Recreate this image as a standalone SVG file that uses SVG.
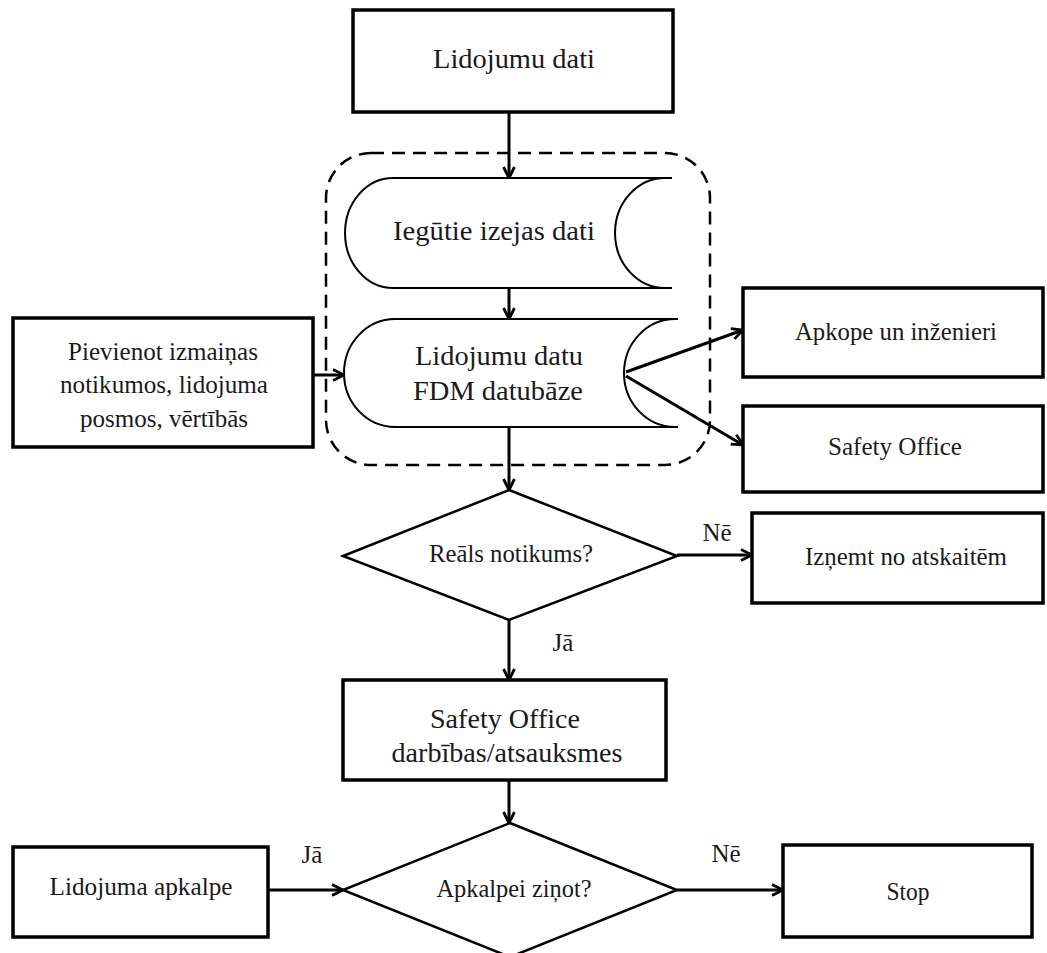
<svg xmlns="http://www.w3.org/2000/svg" width="1047" height="953" viewBox="0 0 1047 953">
<defs>
<marker id="arr" viewBox="0 0 14 14" refX="13" refY="7" markerWidth="14" markerHeight="14" markerUnits="userSpaceOnUse" orient="auto">
<path d="M2,1.5 L13,7 L2,12.5" fill="none" stroke="#000" stroke-width="2.8" stroke-linejoin="miter"/>
</marker>
</defs>
<style>
.box{fill:#fff;stroke:#000;stroke-width:3.5}
.shape{fill:none;stroke:#000;stroke-width:2}
.fillw{fill:#fff;stroke:none}
.dia{fill:#fff;stroke:#000;stroke-width:2.5}
.dash{fill:none;stroke:#000;stroke-width:2.5;stroke-dasharray:13 8}
.con{fill:none;stroke:#000;stroke-width:3;marker-end:url(#arr)}
text{font-family:"Liberation Serif","Times New Roman",serif;fill:#1a1a1a;text-anchor:middle}
.big{font-size:28px}
.sm{font-size:25px}
</style>
<rect width="1047" height="953" fill="#fff"/>

<g id="container">
<rect class="dash" x="326" y="153" width="384" height="312" rx="45" ry="45"/>
</g>

<g id="n-lidojumu-dati">
<rect class="box" x="353" y="10" width="320" height="102"/>
<text class="big" x="514" y="68" textLength="162" lengthAdjust="spacingAndGlyphs">Lidojumu dati</text>
</g>

<g id="n-iegutie">
<path class="fillw" d="M393,178 H665 A50,55 0 0 0 665,288 H393 A48,55 0 0 1 393,178 Z"/>
<path class="shape" d="M393,178 H672 M665,178 A50,55 0 0 0 665,288 M672,288 H393 A48,55 0 0 1 393,178"/>
<text class="big" x="494" y="240" textLength="202" lengthAdjust="spacingAndGlyphs">Iegūtie izejas dati</text>
</g>

<g id="n-fdm">
<path class="fillw" d="M395,319 H675 A51,54 0 0 0 675,427 H395 A51,54 0 0 1 395,319 Z"/>
<path class="shape" d="M395,319 H678 M675,319 A51,54 0 0 0 675,427 M678,427 H395 A51,54 0 0 1 395,319"/>
<text class="big" x="499" y="365" textLength="168" lengthAdjust="spacingAndGlyphs">Lidojumu datu</text>
<text class="big" x="498" y="400" textLength="170" lengthAdjust="spacingAndGlyphs">FDM datubāze</text>
</g>

<g id="n-pievienot">
<rect class="box" x="13" y="318" width="300" height="129"/>
<text class="sm" x="163" y="360" textLength="190" lengthAdjust="spacingAndGlyphs">Pievienot izmaiņas</text>
<text class="sm" x="164" y="393" textLength="208" lengthAdjust="spacingAndGlyphs">notikumos, lidojuma</text>
<text class="sm" x="164" y="427" textLength="168" lengthAdjust="spacingAndGlyphs">posmos, vērtībās</text>
</g>

<g id="n-apkope">
<rect class="box" x="743" y="288" width="300" height="89"/>
<text class="sm" x="896" y="340" textLength="202" lengthAdjust="spacingAndGlyphs">Apkope un inženieri</text>
</g>

<g id="n-safety-right">
<rect class="box" x="743" y="406" width="300" height="86"/>
<text class="sm" x="895" y="455" textLength="134" lengthAdjust="spacingAndGlyphs">Safety Office</text>
</g>

<g id="n-reals">
<polygon class="dia" points="509,490 677,556 509,620 343,556"/>
<text class="sm" x="511" y="562" textLength="164" lengthAdjust="spacingAndGlyphs">Reāls notikums?</text>
</g>

<g id="n-iznemt">
<rect class="box" x="752" y="513" width="291" height="90"/>
<text class="sm" x="906" y="565" textLength="202" lengthAdjust="spacingAndGlyphs">Izņemt no atskaitēm</text>
</g>

<g id="n-safety-center">
<rect class="box" x="343" y="680" width="323" height="100"/>
<text class="big" x="505" y="728" textLength="150" lengthAdjust="spacingAndGlyphs">Safety Office</text>
<text class="big" x="507" y="762" textLength="231" lengthAdjust="spacingAndGlyphs">darbības/atsauksmes</text>
</g>

<g id="n-apkalpei">
<polygon class="dia" points="510,823 677,890 510,957 343,890"/>
<text class="sm" x="514" y="897" textLength="155" lengthAdjust="spacingAndGlyphs">Apkalpei ziņot?</text>
</g>

<g id="n-lidojuma-apkalpe">
<rect class="box" x="13" y="847" width="255" height="90"/>
<text class="sm" x="141" y="895" textLength="183" lengthAdjust="spacingAndGlyphs">Lidojuma apkalpe</text>
</g>

<g id="n-stop">
<rect class="box" x="783" y="845" width="249" height="92"/>
<text class="sm" x="908" y="900" textLength="43" lengthAdjust="spacingAndGlyphs">Stop</text>
</g>

<g id="connectors">
<line class="con" x1="509" y1="112" x2="509" y2="178"/>
<line class="con" x1="509" y1="288" x2="509" y2="319"/>
<line class="con" x1="313" y1="375" x2="344" y2="375"/>
<line class="con" x1="626" y1="372" x2="743" y2="330"/>
<line class="con" x1="626" y1="376" x2="743" y2="445"/>
<line class="con" x1="509" y1="427" x2="509" y2="490"/>
<line class="con" x1="677" y1="555" x2="752" y2="555"/>
<line class="con" x1="509" y1="620" x2="509" y2="680"/>
<line class="con" x1="509" y1="780" x2="509" y2="823"/>
<line class="con" x1="268" y1="890" x2="343" y2="890"/>
<line class="con" x1="677" y1="890" x2="783" y2="890"/>
<text class="sm" x="717" y="541">Nē</text>
<text class="sm" x="563" y="651">Jā</text>
<text class="sm" x="312" y="863">Jā</text>
<text class="sm" x="726" y="862">Nē</text>
</g>
</svg>
